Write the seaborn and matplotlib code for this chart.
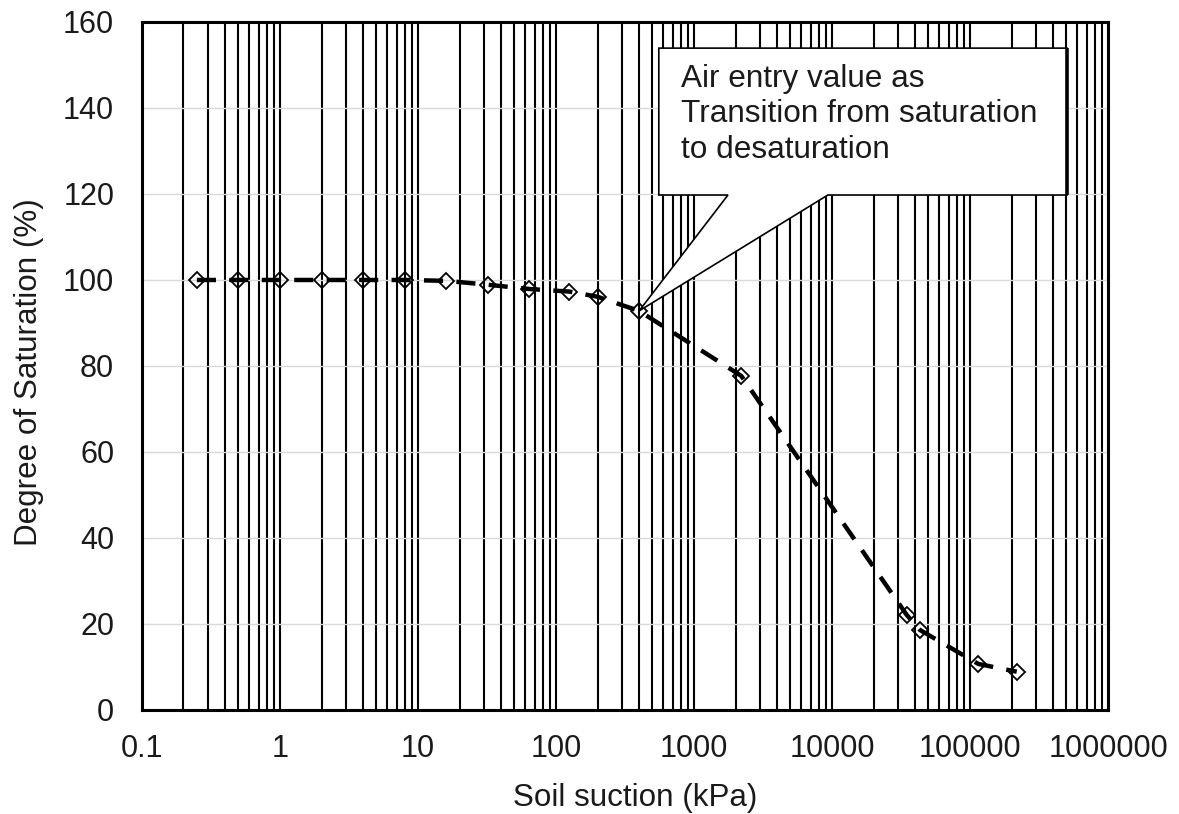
import matplotlib
matplotlib.use("Agg")
import matplotlib.pyplot as plt
import seaborn as sns
import numpy as np
import pandas as pd
from matplotlib.ticker import LogLocator, FixedLocator, FuncFormatter, NullFormatter
from matplotlib.patches import Polygon

# ---- data ----
suction_kpa = [0.25, 0.5, 1, 2, 4, 8, 16, 32, 64, 125, 200, 400,
               2200, 34800, 43400, 115000, 218000]
saturation_pct = [100, 100, 100, 100, 100, 100, 99.8, 98.9, 97.9, 97.3, 96.1, 92.8,
                  77.7, 22.1, 18.6, 10.7, 8.9]
x_ticks = [0.1, 1, 10, 100, 1000, 10000, 100000, 1000000]
y_ticks = [0, 20, 40, 60, 80, 100, 120, 140, 160]
annotation_text = "Air entry value as\nTransition from saturation\nto desaturation"
annotated_point = (400, 92.8)

sns.set_theme(style="white")
plt.rcParams["font.family"] = ["Liberation Sans", "DejaVu Sans"]

fig = plt.figure(figsize=(11.79, 8.14), dpi=100)
ax = fig.add_axes([0.1204, 0.1278, 0.8194, 0.8452])

df = pd.DataFrame({"suction": suction_kpa, "saturation": saturation_pct})
sns.lineplot(data=df, x="suction", y="saturation", ax=ax, color="black",
             linewidth=3.2, linestyle=(0, (4.3, 3.0)),
             marker="D", markersize=8.2, markerfacecolor="none",
             markeredgecolor="black", markeredgewidth=1.3, zorder=5)

ax.set_xscale("log")
ax.set_xlim(x_ticks[0], x_ticks[-1])
ax.set_ylim(y_ticks[0], y_ticks[-1])
ax.xaxis.set_major_locator(FixedLocator(x_ticks))
ax.xaxis.set_minor_locator(LogLocator(base=10, subs=np.arange(2, 10), numticks=100))
ax.xaxis.set_minor_formatter(NullFormatter())
ax.xaxis.set_major_formatter(FuncFormatter(lambda v, p: ("%g" % v) if v < 1 else "%d" % int(round(v))))
ax.set_yticks(y_ticks)

# gridlines
ax.grid(False)
ax.xaxis.grid(True, which="both", color="black", linewidth=1.5, zorder=1)
ax.yaxis.grid(True, which="major", color="#d9d9d9", linewidth=1.0, zorder=0)
ax.set_axisbelow(True)

for s in ax.spines.values():
    s.set_color("black")
    s.set_linewidth(2.2)

ax.tick_params(axis="both", which="both", length=0, labelsize=22, colors="#1a1a1a")
ax.tick_params(axis="y", pad=20)
ax.tick_params(axis="x", pad=17)

ax.set_xlabel("Soil suction (kPa)", fontsize=22.6, color="#1a1a1a", labelpad=14)
ax.set_ylabel("Degree of Saturation (%)", fontsize=22.6, color="#1a1a1a", labelpad=13.5)
ax.xaxis.label.set_x(0.5104)
ax.yaxis.label.set_y(0.491)

# callout
fig.canvas.draw()
tip = ax.transAxes.inverted().transform(ax.transData.transform(annotated_point))
bx0, bx1, by0, by1 = 0.535, 0.9576, 0.7485, 0.962
wx0, wx1 = 0.6066, 0.710
poly = Polygon([(bx0, by1), (bx1, by1), (bx1, by0), (wx1, by0), tuple(tip),
                (wx0, by0), (bx0, by0)], closed=True, transform=ax.transAxes,
               facecolor="white", edgecolor="black", linewidth=1.2, zorder=10,
               joinstyle="miter", clip_on=False)
ax.add_patch(poly)
ax.plot([bx1, bx1], [by0, by1], transform=ax.transAxes, color="black",
        linewidth=2.6, zorder=11, clip_on=False, solid_capstyle="butt")
ax.text(0.558, 0.9395, annotation_text, transform=ax.transAxes, ha="left", va="top",
        fontsize=22.7, color="#1a1a1a", linespacing=1.24, zorder=12)

fig.savefig("out.png", dpi=100)
